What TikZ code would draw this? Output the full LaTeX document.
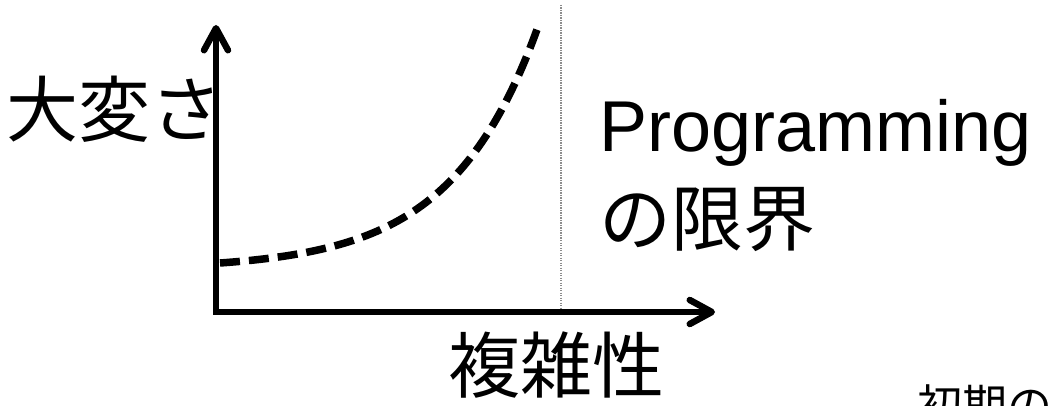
\documentclass[tikz,border=0pt]{standalone}
\usepackage{fontspec}
\setmainfont{Liberation Sans}
\newfontfamily\jp{Noto Sans CJK JP}
\usetikzlibrary{arrows.meta}
\begin{document}
\begin{tikzpicture}[x=1pt,y=-1pt,
  axisline/.style={line width=6.5pt, line join=miter,
    {Straight Barb[length=22pt,width=24pt,round]}-{Straight Barb[length=22pt,width=24pt,round]}},
  curveline/.style={line width=7.5pt, dash pattern=on 20pt off 9pt},
  limitline/.style={draw=black!45, line width=1.3pt, dash pattern=on 1.3pt off 1.2pt},
  bigtext/.style={inner sep=0pt, anchor=base west, font=\fontsize{72}{86}\selectfont},
  jptext/.style={bigtext, font=\jp\fontsize{72}{86}\selectfont},
  smalljp/.style={inner sep=0pt, anchor=base west, font=\jp\fontsize{45}{54}\selectfont}]
\useasboundingbox (0,0) rectangle (1048,406);
\clip (0,0) rectangle (1048,406);
\fill[white] (0,0) rectangle (1048,406);
% labels
\node[jptext] (ylab) at (6,137) {大変さ};
\node[bigtext] (prog) at (599,152) {Programming};
\node[jptext] (limit) at (599,245) {の限界};
\node[jptext] (xlab) at (448,392) {複雑性};
\node[smalljp] (early) at (917,422) {初期の};
% coordinates
\coordinate (origin) at (216,312);
\coordinate (ytip) at (216,25);
\coordinate (xtip) at (715,312);
\coordinate (limtop) at (561,5);
\coordinate (limbot) at (561,309);
% limit line
\draw[limitline] (limtop) -- (limbot);
% axes
\draw[axisline] (ytip) -- (origin) -- (xtip);
% curve
\draw[curveline] plot[domain=220:537, samples=80, smooth] (\x, {263 - 6.25*(exp(0.0115*(\x-220))-1)});
\end{tikzpicture}
\end{document}
